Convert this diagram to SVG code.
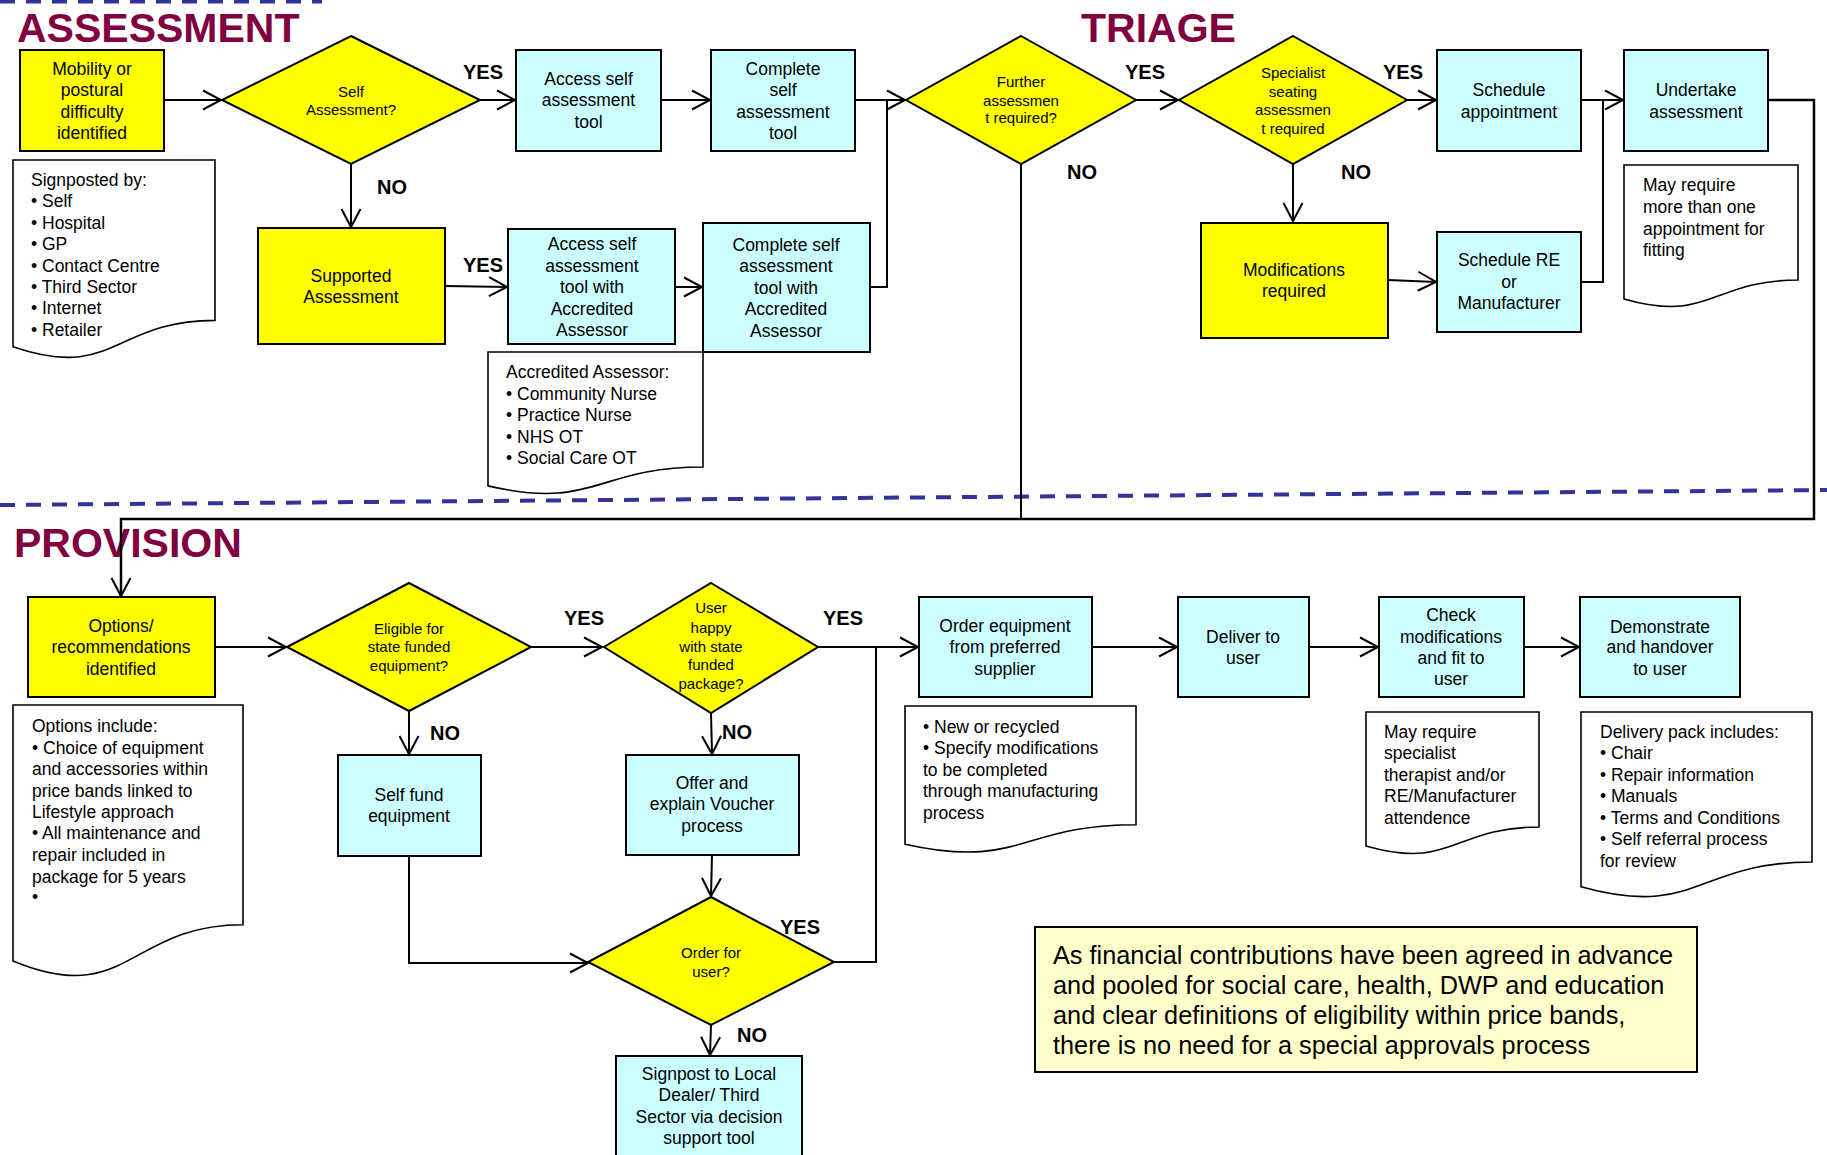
<svg xmlns="http://www.w3.org/2000/svg" width="1827" height="1155" viewBox="0 0 1827 1155">
<style>
  .y{fill:#FFFF00;stroke:#000;stroke-width:2}
  .c{fill:#CCFFFF;stroke:#000;stroke-width:2}
  .n{fill:#FFFFCC;stroke:#000;stroke-width:2}
  .doc{fill:#fff;stroke:#000;stroke-width:1.6}
  text{font-family:"Liberation Sans",Arial,sans-serif;font-size:17.5px;fill:#000}
  .m{text-anchor:middle}
  .d{font-size:15px}
  .lbl{font-weight:bold;font-size:20px}
  .ttl{font-weight:bold;font-size:41px;fill:#800040}
  .note{font-size:25.3px}
  #connectors path{fill:none;stroke:#000;stroke-width:2}
  .dash{stroke:#333399;stroke-width:4;stroke-dasharray:15 11;fill:none}
</style>
<defs>
  <marker id="arr" markerUnits="userSpaceOnUse" markerWidth="24" markerHeight="24" viewBox="-20 -12 24 24" refX="0" refY="0" orient="auto">
    <path d="M-18,-9.5 L0,0 L-18,9.5" fill="none" stroke="#000" stroke-width="2"/>
  </marker>
</defs>
<rect width="1827" height="1155" fill="#fff"/>

<!-- section dividers and titles -->
<line class="dash" x1="0" y1="1.5" x2="322" y2="1.5"/>
<line class="dash" x1="0" y1="505" x2="1827" y2="490"/>
<text class="ttl" x="17" y="42">ASSESSMENT</text>
<text class="ttl" x="1081" y="42">TRIAGE</text>
<text class="ttl" x="14" y="557">PROVISION</text>

<g id="connectors">
  <path d="M164,100 H221" marker-end="url(#arr)"/>
  <path d="M480,100 H515" marker-end="url(#arr)"/>
  <path d="M661,100 H710" marker-end="url(#arr)"/>
  <path d="M855,100 H905" marker-end="url(#arr)"/>
  <path d="M870,287 H887 V100"/>
  <path d="M1136,100 H1178" marker-end="url(#arr)"/>
  <path d="M1407,100 H1436" marker-end="url(#arr)"/>
  <path d="M1581,100 H1623" marker-end="url(#arr)"/>
  <path d="M1581,282 H1603 V100"/>
  <path d="M1293,164 V221" marker-end="url(#arr)"/>
  <path d="M1388,280 L1436,282" marker-end="url(#arr)"/>
  <path d="M351,164 V227" marker-end="url(#arr)"/>
  <path d="M445,286 L507,287" marker-end="url(#arr)"/>
  <path d="M675,287 H702" marker-end="url(#arr)"/>
  <path d="M1768,100 H1814 V519 H121 V596" marker-end="url(#arr)" style="stroke-width:2.5"/>
  <path d="M1021,164 V519"/>
  <path d="M215,647 H286" marker-end="url(#arr)"/>
  <path d="M530,647 H602" marker-end="url(#arr)"/>
  <path d="M818,647 H918" marker-end="url(#arr)"/>
  <path d="M1092,647 H1177" marker-end="url(#arr)"/>
  <path d="M1309,647 H1378" marker-end="url(#arr)"/>
  <path d="M1524,647 H1579" marker-end="url(#arr)"/>
  <path d="M409,711 V754" marker-end="url(#arr)"/>
  <path d="M711,713 L712,754" marker-end="url(#arr)"/>
  <path d="M712,855 L711,896" marker-end="url(#arr)"/>
  <path d="M409,856 V963 H588" marker-end="url(#arr)"/>
  <path d="M834,962 H876 V647"/>
  <path d="M711,1025 L710,1055" marker-end="url(#arr)"/>
</g>

<g id="labels">
  <text class="lbl" x="463" y="79">YES</text>
  <text class="lbl" x="377" y="194">NO</text>
  <text class="lbl" x="1125" y="79">YES</text>
  <text class="lbl" x="1067" y="179">NO</text>
  <text class="lbl" x="1383" y="79">YES</text>
  <text class="lbl" x="1341" y="179">NO</text>
  <text class="lbl" x="463" y="272">YES</text>
  <text class="lbl" x="564" y="625">YES</text>
  <text class="lbl" x="823" y="625">YES</text>
  <text class="lbl" x="430" y="740">NO</text>
  <text class="lbl" x="722" y="739">NO</text>
  <text class="lbl" x="780" y="934">YES</text>
  <text class="lbl" x="737" y="1042">NO</text>
</g>

<!-- ASSESSMENT -->
<g id="mobility">
  <rect class="y" x="20" y="50" width="144" height="101"/>
  <text class="m" x="92" y="75">Mobility or</text>
  <text class="m" x="92" y="96">postural</text>
  <text class="m" x="92" y="118">difficulty</text>
  <text class="m" x="92" y="139">identified</text>
</g>
<g id="signposted">
  <path class="doc" d="M13,160 H215 V320.4 C114,320.4 114,381.5 13,346.8 Z"/>
  <text x="31" y="186">Signposted by:</text>
  <text x="31" y="207">• Self</text>
  <text x="31" y="229">• Hospital</text>
  <text x="31" y="250">• GP</text>
  <text x="31" y="272">• Contact Centre</text>
  <text x="31" y="293">• Third Sector</text>
  <text x="31" y="314">• Internet</text>
  <text x="31" y="336">• Retailer</text>
</g>
<g id="self-assessment">
  <polygon class="y" points="351,36 480,100 351,164 222,100"/>
  <text class="m d" x="351" y="97">Self</text>
  <text class="m d" x="351" y="115">Assessment?</text>
</g>
<g id="access-tool">
  <rect class="c" x="516" y="50" width="145" height="101"/>
  <text class="m" x="588.5" y="85">Access self</text>
  <text class="m" x="588.5" y="106">assessment</text>
  <text class="m" x="588.5" y="128">tool</text>
</g>
<g id="complete-tool">
  <rect class="c" x="711" y="50" width="144" height="101"/>
  <text class="m" x="783" y="75">Complete</text>
  <text class="m" x="783" y="96">self</text>
  <text class="m" x="783" y="118">assessment</text>
  <text class="m" x="783" y="139">tool</text>
</g>
<g id="supported">
  <rect class="y" x="258" y="228" width="187" height="116"/>
  <text class="m" x="351" y="282">Supported</text>
  <text class="m" x="351" y="303">Assessment</text>
</g>
<g id="access-accredited">
  <rect class="c" x="508" y="229" width="167" height="115"/>
  <text class="m" x="592" y="250">Access self</text>
  <text class="m" x="592" y="272">assessment</text>
  <text class="m" x="592" y="293">tool with</text>
  <text class="m" x="592" y="315">Accredited</text>
  <text class="m" x="592" y="336">Assessor</text>
</g>
<g id="accredited-doc">
  <path class="doc" d="M488,352 H703 V467 C595.5,467 595.5,510.8 488,485.9 Z"/>
  <text x="506" y="378">Accredited Assessor:</text>
  <text x="506" y="400">• Community Nurse</text>
  <text x="506" y="421">• Practice Nurse</text>
  <text x="506" y="443">• NHS OT</text>
  <text x="506" y="464">• Social Care OT</text>
</g>
<g id="complete-accredited">
  <rect class="c" x="703" y="223" width="167" height="129"/>
  <text class="m" x="786" y="251">Complete self</text>
  <text class="m" x="786" y="272">assessment</text>
  <text class="m" x="786" y="294">tool with</text>
  <text class="m" x="786" y="315">Accredited</text>
  <text class="m" x="786" y="337">Assessor</text>
</g>

<!-- TRIAGE -->
<g id="further">
  <polygon class="y" points="1021,36 1136,100 1021,164 906,100"/>
  <text class="m d" x="1021" y="87">Further</text>
  <text class="m d" x="1021" y="106">assessmen</text>
  <text class="m d" x="1021" y="123">t required?</text>
</g>
<g id="specialist">
  <polygon class="y" points="1293,36 1407,100 1293,164 1179,100"/>
  <text class="m d" x="1293" y="78">Specialist</text>
  <text class="m d" x="1293" y="97">seating</text>
  <text class="m d" x="1293" y="115">assessmen</text>
  <text class="m d" x="1293" y="134">t required</text>
</g>
<g id="schedule-appointment">
  <rect class="c" x="1437" y="50" width="144" height="101"/>
  <text class="m" x="1509" y="96">Schedule</text>
  <text class="m" x="1509" y="118">appointment</text>
</g>
<g id="undertake">
  <rect class="c" x="1624" y="50" width="144" height="101"/>
  <text class="m" x="1696" y="96">Undertake</text>
  <text class="m" x="1696" y="118">assessment</text>
</g>
<g id="fitting-doc">
  <path class="doc" d="M1624,165 H1798 V280 C1711,280 1711,323.8 1624,298.9 Z"/>
  <text x="1643" y="191">May require</text>
  <text x="1643" y="213">more than one</text>
  <text x="1643" y="235">appointment for</text>
  <text x="1643" y="256">fitting</text>
</g>
<g id="modifications">
  <rect class="y" x="1201" y="223" width="187" height="115"/>
  <text class="m" x="1294" y="276">Modifications</text>
  <text class="m" x="1294" y="297">required</text>
</g>
<g id="schedule-re">
  <rect class="c" x="1437" y="232" width="144" height="100"/>
  <text class="m" x="1509" y="266">Schedule RE</text>
  <text class="m" x="1509" y="288">or</text>
  <text class="m" x="1509" y="309">Manufacturer</text>
</g>

<!-- PROVISION -->
<g id="options">
  <rect class="y" x="28" y="597" width="187" height="100"/>
  <text class="m" x="121" y="632">Options/</text>
  <text class="m" x="121" y="653">recommendations</text>
  <text class="m" x="121" y="675">identified</text>
</g>
<g id="options-doc">
  <path class="doc" d="M13,705 H243 V924.7 C128,924.7 128,1008.5 13,960.9 Z"/>
  <text x="32" y="732">Options include:</text>
  <text x="32" y="754">• Choice of equipment</text>
  <text x="32" y="775">and accessories within</text>
  <text x="32" y="797">price bands linked to</text>
  <text x="32" y="818">Lifestyle approach</text>
  <text x="32" y="839">• All maintenance and</text>
  <text x="32" y="861">repair included in</text>
  <text x="32" y="883">package for 5 years</text>
  <text x="32" y="903">•</text>
</g>
<g id="eligible">
  <polygon class="y" points="409,583 531,647 409,711 287,647"/>
  <text class="m d" x="409" y="634">Eligible for</text>
  <text class="m d" x="409" y="652">state funded</text>
  <text class="m d" x="409" y="671">equipment?</text>
</g>
<g id="self-fund">
  <rect class="c" x="338" y="755" width="143" height="101"/>
  <text class="m" x="409" y="801">Self fund</text>
  <text class="m" x="409" y="822">equipment</text>
</g>
<g id="user-happy">
  <polygon class="y" points="711,583 818,647 711,713 604,647"/>
  <text class="m d" x="711" y="613">User</text>
  <text class="m d" x="711" y="633">happy</text>
  <text class="m d" x="711" y="652">with state</text>
  <text class="m d" x="711" y="670">funded</text>
  <text class="m d" x="711" y="689">package?</text>
</g>
<g id="offer">
  <rect class="c" x="626" y="755" width="173" height="100"/>
  <text class="m" x="712" y="789">Offer and</text>
  <text class="m" x="712" y="810">explain Voucher</text>
  <text class="m" x="712" y="832">process</text>
</g>
<g id="order-for-user">
  <polygon class="y" points="711,897 834,962 711,1025 588,962"/>
  <text class="m d" x="711" y="958">Order for</text>
  <text class="m d" x="711" y="977">user?</text>
</g>
<g id="signpost">
  <rect class="c" x="616" y="1056" width="186" height="110"/>
  <text class="m" x="709" y="1080">Signpost to Local</text>
  <text class="m" x="709" y="1101">Dealer/ Third</text>
  <text class="m" x="709" y="1123">Sector via decision</text>
  <text class="m" x="709" y="1144">support tool</text>
</g>
<g id="order-equipment">
  <rect class="c" x="919" y="597" width="173" height="100"/>
  <text class="m" x="1005" y="632">Order equipment</text>
  <text class="m" x="1005" y="653">from preferred</text>
  <text class="m" x="1005" y="675">supplier</text>
</g>
<g id="order-doc">
  <path class="doc" d="M905,706 H1136 V824.7 C1020.5,824.7 1020.5,869.9 905,844.2 Z"/>
  <text x="923" y="733">• New or recycled</text>
  <text x="923" y="754">• Specify modifications</text>
  <text x="923" y="776">to be completed</text>
  <text x="923" y="797">through manufacturing</text>
  <text x="923" y="819">process</text>
</g>
<g id="deliver">
  <rect class="c" x="1178" y="597" width="131" height="100"/>
  <text class="m" x="1243" y="643">Deliver to</text>
  <text class="m" x="1243" y="664">user</text>
</g>
<g id="check">
  <rect class="c" x="1379" y="597" width="145" height="100"/>
  <text class="m" x="1451" y="621">Check</text>
  <text class="m" x="1451" y="643">modifications</text>
  <text class="m" x="1451" y="664">and fit to</text>
  <text class="m" x="1451" y="685">user</text>
</g>
<g id="check-doc">
  <path class="doc" d="M1366,712 H1539 V827 C1452.5,827 1452.5,870.8 1366,845.9 Z"/>
  <text x="1384" y="738">May require</text>
  <text x="1384" y="759">specialist</text>
  <text x="1384" y="781">therapist and/or</text>
  <text x="1384" y="802">RE/Manufacturer</text>
  <text x="1384" y="824">attendence</text>
</g>
<g id="demonstrate">
  <rect class="c" x="1580" y="597" width="160" height="100"/>
  <text class="m" x="1660" y="633">Demonstrate</text>
  <text class="m" x="1660" y="653">and handover</text>
  <text class="m" x="1660" y="675">to user</text>
</g>
<g id="delivery-doc">
  <path class="doc" d="M1581,712 H1812 V862 C1696.5,862 1696.5,919.1 1581,886.7 Z"/>
  <text x="1600" y="738">Delivery pack includes:</text>
  <text x="1600" y="759">• Chair</text>
  <text x="1600" y="781">• Repair information</text>
  <text x="1600" y="802">• Manuals</text>
  <text x="1600" y="824">• Terms and Conditions</text>
  <text x="1600" y="845">• Self referral process</text>
  <text x="1600" y="867">for review</text>
</g>
<g id="note">
  <rect class="n" x="1035" y="927" width="662" height="145"/>
  <text class="note" x="1053" y="964">As financial contributions have been agreed in advance</text>
  <text class="note" x="1053" y="994">and pooled for social care, health, DWP and education</text>
  <text class="note" x="1053" y="1024">and clear definitions of eligibility within price bands,</text>
  <text class="note" x="1053" y="1054">there is no need for a special approvals process</text>
</g>
</svg>
